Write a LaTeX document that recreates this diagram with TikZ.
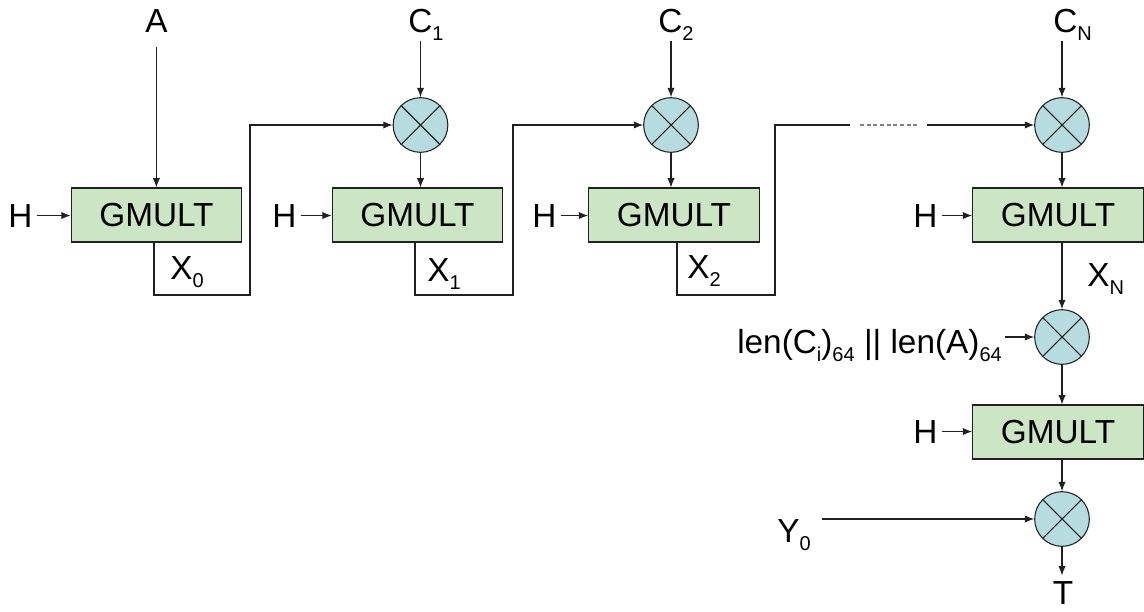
\documentclass[tikz,border=0pt]{standalone}
\usepackage{fontspec}
\setmainfont{Liberation Sans}
\usetikzlibrary{arrows.meta,calc,positioning}
\definecolor{gmultFill}{HTML}{CCE5C4}
\definecolor{xorFill}{HTML}{B7DCE0}
\definecolor{wireInk}{HTML}{202020}
\newcommand{\lowidx}[1]{\raisebox{-6.5pt}{\fontsize{15}{15}\selectfont #1}}

\begin{document}
\begin{tikzpicture}[x=0.75pt,y=-0.75pt,
    every node/.style={font=\fontsize{25}{30}\selectfont, inner sep=0pt},
    gmult/.style={draw=wireInk, line width=0.8pt, fill=gmultFill, minimum width=128pt, minimum height=40.5pt},
    xorop/.style={circle, draw=wireInk, line width=0.8pt, fill=xorFill, minimum size=41pt},
    wire/.style={line width=0.8pt, wireInk},
    arr/.style={wire, -{Latex[length=7pt,width=5.5pt]}},
    lbl/.style={anchor=base west}]
  \useasboundingbox (0,0) rectangle (1144,611);

  % multiplier blocks
  \node[gmult] (g1) at (156.5,215) {GMULT};
  \node[gmult] (g2) at (417.5,215) {GMULT};
  \node[gmult] (g3) at (674,215) {GMULT};
  \node[gmult] (g4) at (1058,215) {GMULT};
  \node[gmult] (g5) at (1058,432) {GMULT};

  % xor nodes
  \node[xorop] (m1) at (420.5,125) {};
  \node[xorop] (m2) at (671,125) {};
  \node[xorop] (m3) at (1062,125) {};
  \node[xorop] (m4) at (1062,337) {};
  \node[xorop] (m5) at (1062,519) {};
  \foreach \m in {m1,m2,m3,m4,m5}
    \draw[wire] (\m.north east) -- (\m.south west) (\m.north west) -- (\m.south east);

  % labels
  \node[lbl] (a) at (145,32) {A};
  \node[lbl] (c1) at (408,32) {C\lowidx{1}};
  \node[lbl] (c2) at (658,32) {C\lowidx{2}};
  \node[lbl] (cn) at (1053,32) {C\lowidx{N}};
  \node[lbl] (h1) at (8,227) {H};
  \node[lbl] (h2) at (272,227) {H};
  \node[lbl] (h3) at (532,227) {H};
  \node[lbl] (h4) at (913,227) {H};
  \node[lbl] (h5) at (913,443) {H};
  \node[lbl] (x0) at (170,279) {X\lowidx{0}};
  \node[lbl] (x1) at (427,281) {X\lowidx{1}};
  \node[lbl] (x2) at (687,278) {X\lowidx{2}};
  \node[lbl] (xn) at (1087,286) {X\lowidx{N}};
  \node[anchor=base east] (len) at (1002,353) {len(C\lowidx{i})\lowidx{64} || len(A)\lowidx{64}};
  \node[lbl] (y0) at (777,542) {Y\lowidx{0}};
  \node[anchor=base] (t) at (1063,604) {T};

  % inputs
  \draw[arr, shorten <=11pt] (a.south) -- (a.south |- g1.north);
  \draw[arr] (c1.south -| m1) -- (m1.north);
  \draw[arr] (c2.south -| m2) -- (m2.north);
  \draw[arr] (cn.south -| m3) -- (m3.north);
  \foreach \h/\g in {h1/g1,h2/g2,h3/g3,h4/g4,h5/g5}
    \draw[arr, shorten <=3pt] (\h.east) -- (\h.east -| \g.west);

  % chain
  \coordinate (k1) at (250,295);
  \coordinate (k2) at (513,295);
  \coordinate (k3) at (775,295);
  \coordinate (d1) at (850,125);
  \coordinate (d2) at (860,125);
  \coordinate (d3) at (917,125);
  \coordinate (d4) at (927,125);
  \draw[arr] (g1.south -| 154,0) |- (k1) |- (m1.west);
  \draw[arr] (g2.south -| 415,0) |- (k2) |- (m2.west);
  \draw[wire] (g3.south -| 677,0) |- (k3) |- (d1);
  \draw[wire, gray, dash pattern=on 3pt off 2pt] (d2) -- (d3);
  \draw[arr] (d4) -- (m3.west);
  \draw[arr] (m1.south) -- (m1.south |- g2.north);
  \draw[arr] (m2.south) -- (m2.south |- g3.north);
  \draw[arr] (m3.south) -- (m3.south |- g4.north);

  % final stage
  \draw[arr] (g4.south -| m4) -- (m4.north);
  \draw[arr, shorten <=2pt] (len.east |- m4.west) -- (m4.west);
  \draw[arr] (m4.south) -- (m4.south |- g5.north);
  \draw[arr] (g5.south -| m5) -- (m5.north);
  \draw[arr, shorten <=8pt] (y0.east |- m5.west) -- (m5.west);
  \draw[arr, shorten >=4pt] (m5.south) -- (m5.south |- t.north);
\end{tikzpicture}
\end{document}
